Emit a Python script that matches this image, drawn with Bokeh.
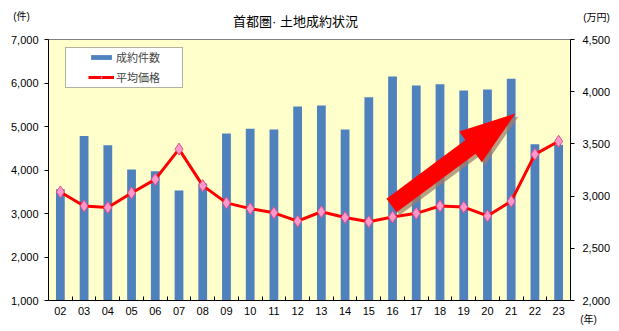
import numpy as np
from bokeh.plotting import figure
from bokeh.models import (Range1d, LinearAxis, FixedTicker, NumeralTickFormatter,
                          Label, Legend, LegendItem, BoxAnnotation)
from bokeh.embed import file_html
from bokeh.resources import INLINE

years = ["02", "03", "04", "05", "06", "07", "08", "09", "10", "11", "12",
         "13", "14", "15", "16", "17", "18", "19", "20", "21", "22", "23"]
counts = [3560, 4780, 4570, 4010, 3970, 3530, 3690, 4840, 4950, 4930, 5460,
          5480, 4930, 5670, 6150, 5940, 5970, 5830, 5850, 6100, 4590, 4580]
prices = [3040, 2905, 2890, 3030, 3160, 3450, 3100, 2935, 2880, 2840, 2760,
          2850, 2795, 2755, 2800, 2835, 2905, 2895, 2810, 2950, 3400, 3525]
left_ticks = [1000, 2000, 3000, 4000, 5000, 6000, 7000]
right_ticks = [2000, 2500, 3000, 3500, 4000, 4500]

W, H = 619, 331
FL, FR, FT, FB = 48, 570, 39, 300
FW, FH = FR - FL, FB - FT

x = np.arange(len(years))
XR = (-0.5, len(years) - 0.5)
YL = (1000, 7000)
YR = (2000, 4500)

p = figure(width=W, height=H, output_backend="svg", toolbar_location=None,
           x_range=Range1d(*XR), y_range=Range1d(*YL),
           min_border_left=FL, min_border_right=W - FR,
           min_border_top=FT, min_border_bottom=H - FB)
p.extra_y_ranges = {"price": Range1d(*YR)}
p.background_fill_color = "#FFFFCC"
p.border_fill_color = "white"
p.outline_line_color = "#808080"
p.xgrid.visible = False
p.ygrid.visible = False

bars = p.vbar(x=x, top=counts, bottom=YL[0], width=0.37,
              fill_color="#4F81BD", line_color=None)
ln = p.line(x=x, y=prices, y_range_name="price", line_color="#FF0000", line_width=3)
mk = p.scatter(x=x, y=prices, y_range_name="price", marker="diamond", size=12,
               fill_color="#FF99CC", line_color="#E0508A", line_width=1)

# big decorative arrow (pixel geometry converted to data space)
def px2x(px):
    return XR[0] + (px - FL) / FW * (XR[1] - XR[0])

def py2y(py):
    return YR[0] + (FB - py) / FH * (YR[1] - YR[0])

def arrow_poly(tail, tip, shaft_w, head_w, head_len, off=(0, 0)):
    t = np.array(tail, float) + off
    h = np.array(tip, float) + off
    d = (h - t) / np.linalg.norm(h - t)
    n = np.array([-d[1], d[0]])
    b = h - d * head_len
    pts = [t + n * shaft_w / 2, b + n * shaft_w / 2, b + n * head_w / 2, h,
           b - n * head_w / 2, b - n * shaft_w / 2, t - n * shaft_w / 2]
    return [px2x(q[0]) for q in pts], [py2y(q[1]) for q in pts]

sx, sy = arrow_poly((391, 205), (515, 113), 17, 38, 56, off=(3, 3))
p.patch(sx, sy, y_range_name="price", fill_color="#9E7F6A", fill_alpha=0.75, line_color=None)
ax_, ay_ = arrow_poly((391, 205), (515, 113), 17, 38, 56)
p.patch(ax_, ay_, y_range_name="price", fill_color="#FF0000", line_color=None)

FONT = "Liberation Sans"
JFONT = "Noto Sans CJK JP"
MIXFONT = "Liberation Sans, Noto Sans CJK JP"

# left axis
yax = p.yaxis[0]
yax.ticker = FixedTicker(ticks=left_ticks)
yax.formatter = NumeralTickFormatter(format="0,0")
yax.major_label_text_font = FONT
yax.major_label_text_font_size = "11px"
yax.major_label_text_color = "black"
yax.major_tick_in = 0
yax.major_tick_out = 4
yax.minor_tick_line_color = None
yax.minor_tick_in = 0
yax.minor_tick_out = 0
yax.axis_line_color = "black"
yax.major_tick_line_color = "black"
yax.major_label_standoff = 6

# right axis
rax = LinearAxis(y_range_name="price", ticker=FixedTicker(ticks=right_ticks),
                 formatter=NumeralTickFormatter(format="0,0"))
rax.major_label_text_font = FONT
rax.major_label_text_font_size = "11px"
rax.major_label_text_color = "black"
rax.major_tick_in = 0
rax.major_tick_out = 4
rax.minor_tick_line_color = None
rax.minor_tick_in = 0
rax.minor_tick_out = 0
rax.axis_line_color = "black"
rax.major_tick_line_color = "black"
rax.major_label_standoff = 8
p.add_layout(rax, "right")

# x axis
xax = p.xaxis[0]
xax.ticker = FixedTicker(ticks=list(x), minor_ticks=[i + 0.5 for i in range(len(years) - 1)])
xax.major_label_overrides = {int(i): years[i] for i in x}
xax.major_label_text_font = FONT
xax.major_label_text_font_size = "11px"
xax.major_label_text_color = "black"
xax.major_tick_line_color = None
xax.major_tick_in = 0
xax.major_tick_out = 0
xax.minor_tick_in = 4
xax.minor_tick_out = 0
xax.minor_tick_line_color = "black"
xax.axis_line_color = "black"
xax.major_label_standoff = 6

# legend box
p.add_layout(BoxAnnotation(left=65 - FL, right=182 - FL, top=FB - 47, bottom=FB - 87,
                           left_units="screen", right_units="screen",
                           top_units="screen", bottom_units="screen",
                           fill_color="white", fill_alpha=1.0,
                           line_color="black", line_width=1))
legend = Legend(items=[LegendItem(label="成約件数", renderers=[bars]),
                       LegendItem(label="平均価格", renderers=[ln, mk])],
                location=(90 - FL - 2, FB - 87 + 1), padding=2, spacing=2,
                glyph_width=26, glyph_height=6, label_height=18,
                label_standoff=2, label_text_font=JFONT, label_text_font_size="11px",
                border_line_color=None, background_fill_alpha=0.0)
p.add_layout(legend, "center")

# texts outside the frame: canvas units (origin top-left), placed in side panels
def add_label(txt, cx, cy, size, side):
    p.add_layout(Label(x=cx, y=cy, x_units="canvas", y_units="canvas",
                       text=txt, text_font=MIXFONT, text_font_size=size,
                       text_align="center", text_baseline="middle",
                       text_color="black"), side)

add_label("首都圏· 土地成約状況", 295, 21, "13px", "above")
add_label("(件)", 21, 16, "10px", "above")
add_label("(万円)", 596, 17, "10px", "above")
add_label("(年)", 588, 319, "10px", "below")

open("out.html", "w").write(file_html(p, INLINE))
